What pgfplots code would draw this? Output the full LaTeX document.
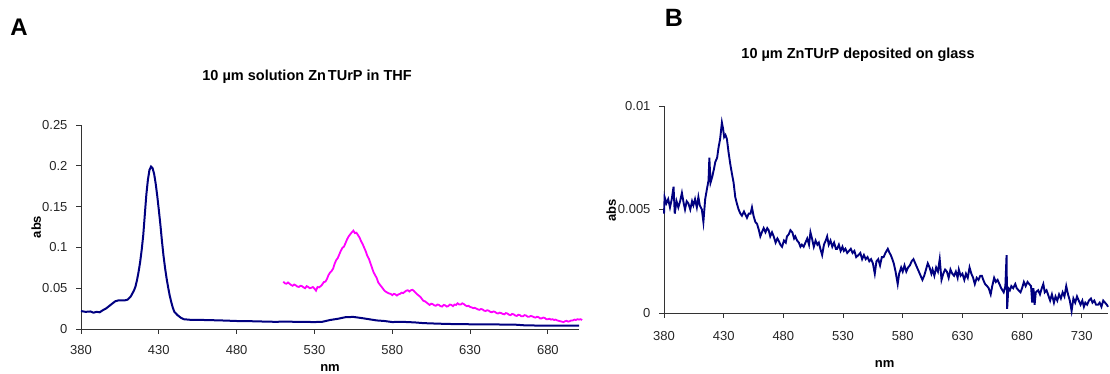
\documentclass[border=0pt]{standalone}
\usepackage{fontspec}
\setmainfont{Liberation Sans}
\usepackage{pgfplots}
\pgfplotsset{compat=1.18}
\definecolor{navyc}{RGB}{0,0,128}
\definecolor{magc}{RGB}{255,0,255}
\pgfplotsset{panel/.style={
  scale only axis,
  axis x line*=bottom, axis y line*=left,
  tick align=outside, major tick length=5pt,
  axis line style={black!80, line width=0.9pt},
  tick style={black!80, line width=0.9pt},
  ticklabel style={font=\fontsize{13}{13}\selectfont, text=black!85},
  /pgf/number format/assume math mode=true,
  scaled ticks=false,
  clip=false,
  yticklabel style={anchor=east, xshift=-5pt},
  every axis x label/.style={at={(axis description cs:0.5,-0.19)}, anchor=center, font=\bfseries\fontsize{13}{13}\selectfont},
  every axis y label/.style={at={(axis description cs:-0.09,0.5)}, rotate=90, anchor=center, font=\bfseries\fontsize{13}{13}\selectfont},
}}
\begin{document}
\begin{tikzpicture}[x=1pt,y=1pt]
\useasboundingbox (0,0) rectangle (1110,374);
% ---------------- Panel A
\begin{axis}[panel, at={(81pt,45pt)}, anchor=south west,
  width=498pt, height=204pt,
  xmin=380, xmax=700, ymin=0, ymax=0.25,
  xtick={380,430,480,530,580,630,680}, xticklabels={380,430,480,530,580,630,680},
  ytick={0,0.05,0.1,0.15,0.2,0.25}, yticklabels={0,0.05,0.1,0.15,0.2,0.25},
  xticklabel style={anchor=base, yshift=-21pt},
  xlabel={nm}, ylabel={abs},
  every axis y label/.append style={at={(axis description cs:-0.09,0.5)}},
]
\addplot[navyc, line width=2pt] coordinates {
(380,0.022)(383,0.021)(386,0.0215)(388,0.020)(390,0.021)(392,0.0205)(394,0.023)(396,0.025)(398,0.028)(400,0.031)
(402,0.034)(404,0.035)(406,0.035)(408,0.035)(410,0.036)(412,0.040)(414,0.047)(415,0.052)(416,0.060)(417,0.070)
(418,0.082)(419,0.097)(420,0.115)(421,0.140)(422,0.165)(423,0.183)(424,0.195)(425,0.199)(426,0.197)(427,0.190)
(428,0.178)(429,0.163)(430,0.146)(431,0.128)(432,0.108)(433,0.090)(434,0.075)(435,0.062)(436,0.051)(437,0.041)
(438,0.033)(439,0.026)(440,0.021)(442,0.017)(444,0.014)(446,0.012)(450,0.0113)(460,0.011)(470,0.0105)(480,0.0098)
(490,0.0095)(500,0.009)(505,0.0088)(510,0.0090)(520,0.0088)(530,0.0085)(535,0.0088)(540,0.0110)(545,0.0125)(550,0.0145)
(555,0.0148)(560,0.0135)(565,0.0120)(570,0.0105)(575,0.0098)(580,0.0085)(585,0.0088)(590,0.0085)(595,0.0080)(600,0.0072)
(610,0.0065)(620,0.0060)(630,0.0058)(640,0.0056)(650,0.0055)(660,0.0052)(665,0.0045)(670,0.0043)(680,0.0042)(690,0.0040)(700,0.0040)
};
\addplot[magc, line width=1.8pt] coordinates {
(510,0.058)(511,0.056)(512,0.0555)(513,0.057)(514,0.0555)(515,0.054)(516,0.053)(517,0.0545)(518,0.0535)(519,0.052)(520,0.0515)(521,0.053)(522,0.0525)(523,0.051)(524,0.050)(525,0.0525)(526,0.0515)(527,0.050)(528,0.0505)
(529,0.0515)(530,0.0495)(531,0.047)(532,0.0515)(533,0.051)(534,0.0525)(535,0.0545)(536,0.0575)(537,0.058)(538,0.061)(539,0.066)(540,0.069)(541,0.071)(542,0.074)(543,0.080)(544,0.0845)(545,0.087)(546,0.0915)
(547,0.096)(548,0.0995)(549,0.101)(550,0.1055)(551,0.110)(552,0.1135)(553,0.116)(554,0.1185)(555,0.1205)(556,0.1175)(557,0.118)(558,0.1150)(559,0.112)(560,0.1075)(561,0.104)(562,0.0995)(563,0.095)(564,0.0895)
(565,0.086)(566,0.0805)(567,0.075)(568,0.0695)(569,0.066)(570,0.0625)(571,0.057)(572,0.0545)(573,0.052)(574,0.0495)(575,0.047)(576,0.0455)(577,0.0445)(578,0.0435)(579,0.043)(580,0.0415)(581,0.043)(582,0.0425)(583,0.041)(584,0.0425)
(585,0.043)(586,0.0445)(587,0.044)(588,0.0455)(589,0.047)(590,0.0475)(591,0.046)(592,0.0475)(593,0.048)(594,0.0465)(595,0.0445)(596,0.0425)(597,0.041)(598,0.0395)(599,0.037)(600,0.0345)(601,0.034)(602,0.0325)(603,0.031)(604,0.0295)
(605,0.031)(606,0.0305)(607,0.029)(608,0.0285)(609,0.030)(610,0.0295)(611,0.028)(612,0.0275)(613,0.0295)(614,0.0290)(615,0.0275)(616,0.0280)(617,0.030)(618,0.0295)(619,0.028)(620,0.0300)(621,0.0295)(622,0.0315)(623,0.030)(624,0.0300)
(625,0.0315)(626,0.0305)(627,0.029)(628,0.0280)(629,0.0285)(630,0.0270)(631,0.0265)(632,0.0255)(633,0.026)(634,0.0250)(635,0.024)(636,0.0235)(637,0.0245)(638,0.0240)(639,0.0225)(640,0.0220)(641,0.023)(642,0.0225)(643,0.021)(644,0.0205)
(645,0.0215)(646,0.0210)(647,0.0195)(648,0.0190)(649,0.020)(650,0.0195)(651,0.0185)(652,0.0180)(653,0.0195)(654,0.0190)(655,0.0175)(656,0.0170)(657,0.0185)(658,0.0180)(659,0.0165)(660,0.0160)(661,0.0175)(662,0.0170)(663,0.0155)(664,0.0155)
(665,0.017)(666,0.0165)(667,0.015)(668,0.0150)(669,0.016)(670,0.0155)(671,0.0145)(672,0.0140)(673,0.015)(674,0.0145)(675,0.013)(676,0.0130)(677,0.014)(678,0.0135)(679,0.012)(680,0.0120)(681,0.0125)(682,0.0115)(683,0.012)(684,0.0110)
(685,0.0115)(686,0.0105)(687,0.0100)(688,0.0095)(689,0.0090)(690,0.0085)(691,0.0095)(692,0.0100)(693,0.0090)(694,0.0095)(695,0.0105)(696,0.0105)(697,0.0115)(698,0.0110)(699,0.012)(700,0.0115)(701,0.0120)(702,0.0110)
};
\node[font=\bfseries\fontsize{14.5}{15}\selectfont] at (rel axis cs:0.454,1.235) {10 µm solution Zn\hspace{2pt}TUrP in THF};
\node[font=\bfseries\fontsize{24}{24}\selectfont] at (rel axis cs:-0.1245,1.48) {A};
\end{axis}
% ---------------- Panel B
\begin{axis}[panel, at={(664pt,61pt)}, anchor=south west,
  width=444pt, height=207pt,
  xmin=380, xmax=752, ymin=0, ymax=0.01,
  xtick={380,430,480,530,580,630,680,730}, xticklabels={380,430,480,530,580,630,680,730},
  ytick={0,0.005,0.01}, yticklabels={0,0.005,0.01},
  xticklabel style={anchor=base, yshift=-23pt},
  xlabel={nm}, ylabel={abs},
  every axis x label/.append style={at={(axis description cs:0.497,-0.246)}},
  every axis y label/.append style={at={(axis description cs:-0.119,0.497)}},
]
\addplot[navyc, line width=1.9pt] coordinates {
(380,0.0048)(380.5,0.0056)(382,0.0053)(383.5,0.0055)(385,0.0051)(386.5,0.0055)(388,0.0061)(389,0.0048)(390.5,0.0054)(392,0.0051)
(393.5,0.0054)(395,0.0058)(396.5,0.0053)(397.6,0.0050)(399,0.0054)(400.4,0.0053)(402,0.0050)(403.5,0.0054)(404.6,0.0052)(406,0.0055)
(407.5,0.0051)(408.8,0.0056)(410,0.0052)(411.7,0.0050)(413,0.0044)(414.5,0.0055)(416,0.0060)(417.3,0.0064)(418,0.0075)(419,0.0063)
(420.5,0.0066)(422,0.0070)(423,0.0073)(424.5,0.0075)(425.7,0.0080)(427,0.0084)(428.5,0.0092)(429.5,0.0089)(430.4,0.0085)(431.5,0.0086)
(432.7,0.0084)(434,0.0078)(435.5,0.0072)(437,0.0067)(438.3,0.0063)(439.7,0.0056)(441,0.0053)(442.5,0.0050)(444,0.0048)(445.3,0.0047)
(447,0.0049)(449.5,0.0046)(451,0.0048)(452.5,0.0048)(453.7,0.0051)(455,0.0047)(456.5,0.0044)(458,0.0043)(459.5,0.0040)(460.7,0.0037)
(462,0.0039)(463.5,0.0041)(465,0.0039)(466.5,0.0041)(467.7,0.0040)(469,0.0037)(470.5,0.0039)(471.9,0.0037)(473.5,0.0034)(475,0.0036)
(476,0.0035)(477.5,0.0033)(478.9,0.0032)(480.5,0.0035)(482,0.0034)(483,0.0037)(484.5,0.0038)(485.9,0.0040)(487.5,0.0039)(489,0.0036)
(490,0.0037)(491.5,0.0035)(493,0.0034)(494.3,0.0032)(495.5,0.0033)(497,0.0032)(498.5,0.0034)(500,0.0036)(501.5,0.0033)(502.7,0.0039)
(504,0.0036)(505.5,0.0032)(507,0.0035)(508.5,0.0033)(509.7,0.0034)(511,0.0031)(512.5,0.0028)(514,0.0033)(515.5,0.0035)(516.7,0.0037)
(518,0.0033)(519.5,0.0035)(521,0.0032)(522.5,0.0034)(524,0.0031)(525,0.0031)(526.5,0.0033)(528,0.0030)(529.5,0.0032)(530.7,0.0030)
(532,0.0031)(533.5,0.0029)(535,0.0030)(536.5,0.0031)(538,0.0029)(539.5,0.0030)(541,0.0027)(543,0.0028)(544.5,0.0029)(546,0.0026)
(547.5,0.0028)(549,0.0026)(550.5,0.0027)(552,0.0025)(553.5,0.0026)(555,0.0024)(556.6,0.0019)(558,0.0025)(559.5,0.0026)(561,0.0023)
(562.5,0.0027)(564,0.0027)(565.5,0.0029)(567.5,0.0031)(569,0.0029)(570,0.0028)(571.3,0.0026)(572.5,0.0024)(574,0.0020)(575.8,0.0014)
(577,0.0019)(578.7,0.0022)(580,0.0020)(581.5,0.0023)(583,0.0020)(584.5,0.0022)(586,0.0023)(587.5,0.0025)(589,0.0026)(590.5,0.0024)
(592,0.0022)(593.5,0.0020)(595,0.0018)(596.5,0.0016)(598,0.0018)(599.5,0.0021)(601,0.0024)(602.5,0.0022)(604,0.0019)(605,0.0021)
(606.5,0.0018)(608,0.0022)(609.5,0.0020)(611,0.0026)(612.5,0.0016)(614,0.0019)(615.5,0.0021)(617,0.0020)(618.5,0.0017)(620,0.0021)
(621.5,0.0019)(623,0.0018)(624.5,0.0020)(626,0.0017)(627,0.0021)(628.5,0.0018)(630,0.0019)(631.6,0.0016)(633,0.0019)(634.5,0.0017)
(636,0.0022)(637.5,0.0019)(639,0.0017)(640.4,0.0014)(642,0.0017)(643.5,0.0016)(645,0.0018)(646.3,0.0018)(647.5,0.0016)(649,0.0014)
(650.7,0.0013)(652,0.0012)(653.7,0.0009)(655,0.0013)(656.6,0.0017)(658,0.0015)(659.5,0.0016)(661,0.0014)(662.5,0.0012)(664.6,0.0010)
(666,0.0013)(667,0.0028)(667.5,0.0002)(668.5,0.0012)(669.8,0.0011)(671,0.0013)(672.5,0.0012)(674.3,0.0014)(675.5,0.0012)(677,0.0011)
(678.7,0.0010)(680,0.0012)(681.5,0.0015)(683,0.0013)(684.6,0.0015)(686,0.0014)(687.5,0.0013)(688.5,0.0005)(689.5,0.0012)(690.5,0.0004)
(691.5,0.0010)(693.5,0.0011)(695,0.0009)(696.5,0.0012)(697.8,0.0014)(699,0.0010)(700.5,0.0011)(702.3,0.0008)(703.5,0.0006)(705,0.0009)
(706.7,0.0005)(708,0.0008)(709.5,0.0006)(711,0.0009)(712.5,0.0007)(714,0.0010)(715.5,0.0008)(717,0.0013)(718.5,0.0009)(720,0.0006)
(721.5,0.0001)(723,0.0007)(724.5,0.0005)(726,0.0008)(727.5,0.0006)(729,0.0004)(730.5,0.0006)(731.8,0.0003)(733,0.0005)(734.5,0.0004)
(736,0.0006)(737.7,0.0007)(739,0.0005)(740.5,0.0006)(742,0.0004)(743.6,0.0004)(745,0.0005)(746.5,0.0003)(748,0.0006)(749.5,0.0005)
(751,0.0004)(752,0.0003)
};
\node[font=\bfseries\fontsize{14.5}{15}\selectfont] at (rel axis cs:0.437,1.246) {10 µm ZnTUrP deposited on glass};
\node[font=\bfseries\fontsize{25}{25}\selectfont] at (rel axis cs:0.0225,1.425) {B};
\end{axis}
\end{tikzpicture}
\end{document}
